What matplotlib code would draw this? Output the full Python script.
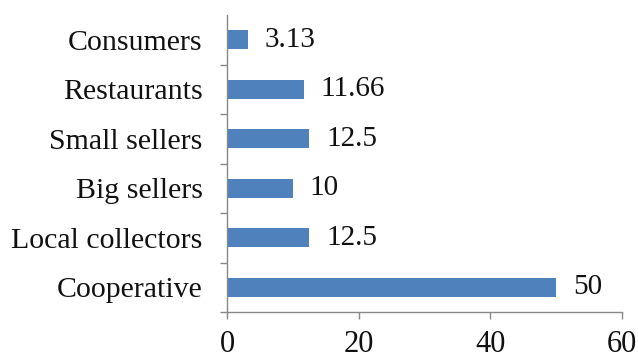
import matplotlib
matplotlib.use("Agg")
import matplotlib.pyplot as plt
import numpy as np

categories = ["Cooperative", "Local collectors", "Big sellers", "Small sellers", "Restaurants", "Consumers"]
values = [50, 12.5, 10, 12.5, 11.66, 3.13]
value_labels = ["50", "12.5", "10", "12.5", "11.66", "3.13"]
xticks = [0, 20, 40, 60]

plt.rcParams['font.family'] = ['Liberation Serif', 'DejaVu Serif']

fig = plt.figure(figsize=(6.38, 3.63), dpi=100)
ax = fig.add_axes([0.356, 0.1405, 0.619, 0.818])

y = np.arange(len(categories))
ax.barh(y, values, height=0.38, color='#4F81BD')
for yi, v, lab in zip(y, values, value_labels):
    ax.annotate(lab, xy=(v, yi), xytext=(12, 0), textcoords='offset points',
                va='center', ha='left', fontsize=21, color='#111111')

ax.set_xlim(0, 60)
ax.set_ylim(-0.5, len(categories) - 0.5)
ax.set_xticks(xticks)
ax.set_xticklabels([str(t) for t in xticks], fontsize=22)
ax.set_yticks(y)
ax.set_yticklabels(categories, fontsize=21.5)
ax.set_yticks(np.arange(-0.5, len(categories) - 1), minor=True)
ax.tick_params(axis='y', which='major', length=0, pad=17.5, colors='#111111')
ax.tick_params(axis='y', which='minor', length=5, width=1, color='#888888')
ax.tick_params(axis='x', which='major', length=5, width=1, color='#888888', pad=8, labelcolor='#111111')

for s in ['top', 'right']:
    ax.spines[s].set_visible(False)
for s in ['left', 'bottom']:
    ax.spines[s].set_color('#888888')
    ax.spines[s].set_linewidth(1)

fig.savefig('out.png', dpi=100)
